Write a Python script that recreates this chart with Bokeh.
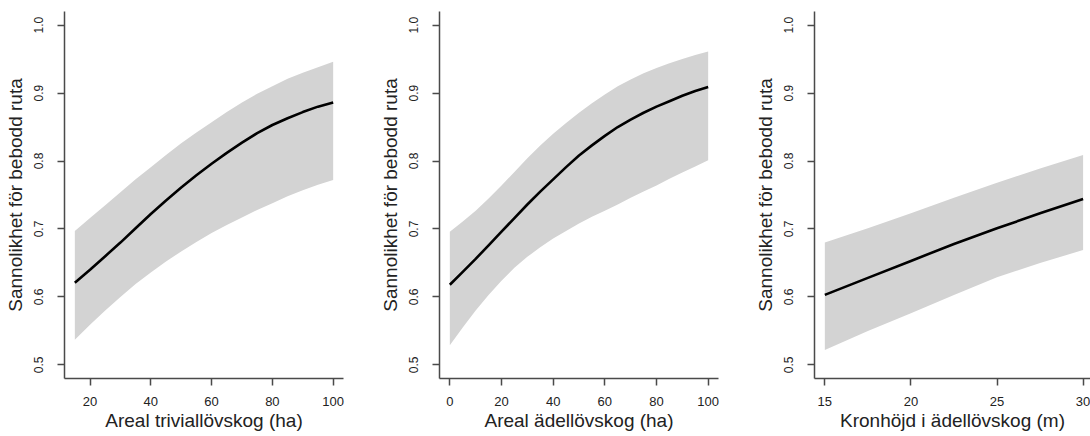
from bokeh.plotting import figure
from bokeh.layouts import row
from bokeh.models import FixedTicker, Range1d
from bokeh.embed import file_html
from bokeh.resources import INLINE

# ---- data ----
y_label = "Sannolikhet för bebodd ruta"
y_ticks = [0.5, 0.6, 0.7, 0.8, 0.9, 1.0]
y_tick_labels = ["0.5", "0.6", "0.7", "0.8", "0.9", "1.0"]

x1 = [15, 20, 25, 30, 35, 40, 45, 50, 55, 60, 65, 70, 75, 80, 85, 90, 95, 100]
mean1 = [0.621, 0.640, 0.660, 0.680, 0.701, 0.722, 0.742, 0.761, 0.779, 0.796,
         0.812, 0.827, 0.841, 0.853, 0.863, 0.872, 0.880, 0.886]
lo1 = [0.537, 0.559, 0.580, 0.600, 0.619, 0.636, 0.652, 0.667, 0.681, 0.694,
       0.706, 0.717, 0.728, 0.738, 0.748, 0.757, 0.765, 0.772]
hi1 = [0.697, 0.716, 0.735, 0.754, 0.773, 0.791, 0.809, 0.826, 0.842, 0.857,
       0.872, 0.886, 0.899, 0.910, 0.921, 0.930, 0.938, 0.946]
x1_ticks = [20, 40, 60, 80, 100]
x1_label = "Areal triviallövskog (ha)"

x2 = [0, 5, 10, 15, 20, 25, 30, 35, 40, 45, 50, 55, 60, 65, 70, 75, 80, 85, 90, 95, 100]
mean2 = [0.618, 0.637, 0.656, 0.676, 0.696, 0.716, 0.736, 0.755, 0.773, 0.791, 0.808,
         0.823, 0.837, 0.850, 0.861, 0.871, 0.880, 0.888, 0.896, 0.903, 0.909]
lo2 = [0.529, 0.555, 0.580, 0.603, 0.624, 0.643, 0.659, 0.673, 0.686, 0.697, 0.708,
       0.718, 0.727, 0.736, 0.746, 0.755, 0.764, 0.774, 0.783, 0.792, 0.801]
hi2 = [0.696, 0.711, 0.727, 0.745, 0.764, 0.784, 0.804, 0.823, 0.840, 0.856, 0.871,
       0.885, 0.898, 0.910, 0.920, 0.929, 0.937, 0.944, 0.950, 0.956, 0.961]
x2_ticks = [0, 20, 40, 60, 80, 100]
x2_label = "Areal ädellövskog (ha)"

x3 = [15, 17.5, 20, 22.5, 25, 27.5, 30]
mean3 = [0.603, 0.628, 0.653, 0.678, 0.701, 0.723, 0.744]
lo3 = [0.522, 0.550, 0.576, 0.603, 0.629, 0.650, 0.669]
hi3 = [0.680, 0.701, 0.723, 0.746, 0.768, 0.789, 0.809]
x3_ticks = [15, 20, 25, 30]
x3_label = "Kronhöjd i ädellövskog (m)"

FONT = "Liberation Sans"
AX = "#4a4a4a"
TXT = "#222222"
BAND = "#D3D3D3"


def panel(x, mean, lo, hi, xticks, xlabel, xr, width, border_right):
    p = figure(width=width, height=436, output_backend="svg", toolbar_location=None,
               x_range=Range1d(*xr), y_range=Range1d(0.48, 1.02),
               min_border_left=64, min_border_right=border_right,
               min_border_top=11, min_border_bottom=58)
    p.outline_line_color = None
    p.xgrid.visible = False
    p.ygrid.visible = False
    p.background_fill_color = "white"
    p.border_fill_color = "white"

    p.varea(x=x, y1=lo, y2=hi, fill_color=BAND, fill_alpha=1.0)
    p.line(x=x, y=mean, line_color="black", line_width=2.6, line_join="round")

    for ax in (p.xaxis[0], p.yaxis[0]):
        ax.axis_line_color = AX
        ax.axis_line_width = 1.5
        ax.major_tick_line_color = AX
        ax.major_tick_line_width = 1.5
        ax.major_tick_in = 0
        ax.major_tick_out = 7
        ax.minor_tick_line_color = None
        ax.major_label_text_font = FONT
        ax.major_label_text_color = TXT
        ax.axis_label_text_font = FONT
        ax.axis_label_text_font_size = "19px"
        ax.axis_label_text_font_style = "normal"
        ax.axis_label_text_color = TXT

    xa = p.xaxis[0]
    xa.ticker = FixedTicker(ticks=xticks)
    xa.major_label_overrides = {t: str(t) for t in xticks}
    xa.major_label_text_font_size = "13px"
    xa.major_label_standoff = 11
    xa.axis_label = xlabel
    xa.axis_label_standoff = 1

    ya = p.yaxis[0]
    ya.ticker = FixedTicker(ticks=y_ticks)
    ya.major_label_overrides = dict(zip(y_ticks, y_tick_labels))
    ya.major_label_text_font_size = "12px"
    ya.major_label_orientation = "vertical"
    ya.major_label_standoff = 14
    ya.axis_label = y_label
    ya.axis_label_standoff = 6
    return p


p1 = panel(x1, mean1, lo1, hi1, x1_ticks, x1_label, (11.6, 103.4), 375, 32)
p2 = panel(x2, mean2, lo2, hi2, x2_ticks, x2_label, (-4.0, 104.0), 375, 32)
p3 = panel(x3, mean3, lo3, hi3, x3_ticks, x3_label, (14.4, 30.43), 340, 0)

layout = row(p1, p2, p3)
open("out.html", "w").write(file_html(layout, INLINE))
